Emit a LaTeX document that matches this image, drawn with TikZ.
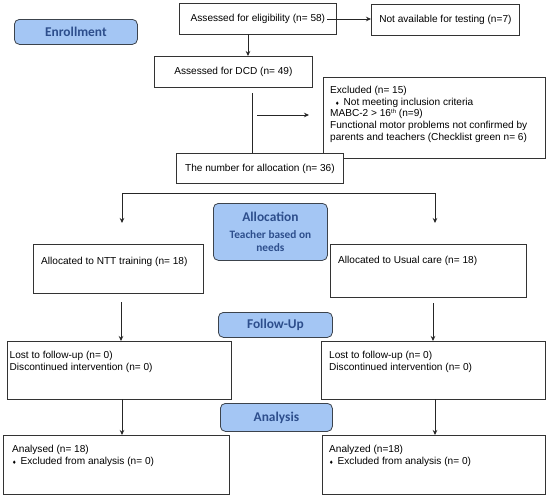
\documentclass[tikz,border=0pt]{standalone}
\usepackage{fontspec}
\setmainfont{Liberation Sans}
\newfontfamily\lblfont{Carlito}
\newfontfamily\symfont{DejaVu Sans}
\usetikzlibrary{arrows.meta,calc}
\definecolor{lblfill}{HTML}{A4C6F4}
\definecolor{lbltext}{HTML}{2D4E8C}
\definecolor{lbldraw}{HTML}{3C434C}
\definecolor{boxdraw}{HTML}{333333}
\newcommand{\dmd}{{\symfont\fontsize{5}{5}\selectfont ♦}\hspace{4pt}}
\newcommand{\lblsmall}{\fontsize{11.3}{13.5}\selectfont}
\begin{document}
\begin{tikzpicture}[x=1pt,y=-1pt,
  every node/.style={font=\fontsize{10.1}{11.7}\selectfont, inner sep=0pt},
  box/.style={draw=boxdraw, line width=0.8pt, anchor=north west, fill=white},
  lbl/.style={draw=lbldraw, line width=0.8pt, fill=lblfill, rounded corners=5pt, anchor=north west,
     text=lbltext, font=\lblfont\bfseries\fontsize{13.4}{14}\selectfont, align=center},
  txt/.style={anchor=west, align=left},
  arr/.style={draw=black!85, line width=0.8pt, -{Stealth[length=5pt,width=4.5pt]}},
  ln/.style={draw=black!85, line width=0.8pt}]
\useasboundingbox (0,0) rectangle (550,498);
\fill[white] (0,0) rectangle (550,498);

% stage labels
\node[lbl, minimum width=123pt, minimum height=25pt] (enroll) at (14,19) {Enrollment};
\node[lbl, minimum width=114pt, minimum height=57pt] (allocl) at (213,203)
  {Allocation\\[3pt]{\lblsmall Teacher based on}\\[-1pt]{\lblsmall needs}};
\node[lbl, minimum width=114pt, minimum height=25pt] (follow) at (218,312) {Follow-Up};
\node[lbl, minimum width=112pt, minimum height=28pt] (analysis) at (220,403) {Analysis};

% boxes with centred text
\node[box, minimum width=157pt, minimum height=31pt] (elig) at (179,3) {Assessed for eligibility (n= 58)};
\node[box, minimum width=148pt, minimum height=31pt] (notav) at (371,4) {Not available for testing (n=7)};
\node[box, minimum width=158pt, minimum height=31pt] (dcd) at (154,56) {Assessed for DCD (n= 49)};
\node[box, minimum width=222pt, minimum height=81pt] (excl) at (323,77) {};
\node[box, minimum width=167pt, minimum height=30pt] (alloc) at (176,153) {The number for allocation (n= 36)};

\node[txt, anchor=north west] (exclt) at (330,86)
  {Excluded (n= 15)\\
   \hspace*{5pt}\dmd Not meeting inclusion criteria\\
   MABC-2 {>} 16{\fontsize{6}{6}\selectfont\raisebox{3.5pt}{th}} (n=9)\\
   Functional motor problems not confirmed by\\
   parents and teachers (Checklist green n= 6)};

% allocation boxes
\node[box, minimum width=170pt, minimum height=49pt] (ntt) at (33,244) {};
\node[txt] (nttt) at (41,262) {Allocated to NTT training (n= 18)};
\node[box, minimum width=196pt, minimum height=53pt] (usual) at (330,244) {};
\node[txt] (usualt) at (338,261) {Allocated to Usual care (n= 18)};

% follow-up boxes
\node[box, minimum width=224pt, minimum height=58pt] (ful) at (7,341) {};
\node[txt, anchor=north west] (fult) at (9.5,351) {Lost to follow-up (n= 0)\\Discontinued intervention (n= 0)};
\node[box, minimum width=224pt, minimum height=58pt] (fur) at (321,341) {};
\node[txt, anchor=north west] (furt) at (329,351) {Lost to follow-up (n= 0)\\Discontinued intervention (n= 0)};

% analysis boxes
\node[box, minimum width=226pt, minimum height=59pt] (anl) at (3,435) {};
\node[txt, anchor=north west] (anlt) at (12,445) {Analysed (n= 18)\\\dmd Excluded from analysis (n= 0)};
\node[box, minimum width=223pt, minimum height=59pt] (anr) at (322,435) {};
\node[txt, anchor=north west] (anrt) at (329,445) {Analyzed (n=18)\\\dmd Excluded from analysis (n= 0)};

% connectors
\coordinate (eligout) at (327,19);
\draw[arr] (eligout) -- (notav.west |- eligout);
\coordinate (down1) at (248,34);
\draw[arr] (down1) -- (down1 |- dcd.north);
\coordinate (v1) at (252,93);
\draw[ln] (v1) -- (v1 |- alloc.north);
\coordinate (h1) at (257,115);
\coordinate (h2) at (309,115);
\draw[arr] (h1) -- (h2);

\coordinate (t1) at (122,193);
\coordinate (t2) at (435,193);
\coordinate (aL) at (122,223);
\coordinate (aR) at (435,223);
\draw[ln] (t1) -- (t2);
\draw[arr] (t1) -- (aL);
\draw[arr] (t2) -- (aR);

\coordinate (n1) at (121,302);
\draw[arr] (n1) -- (n1 |- ful.north);
\coordinate (u1) at (433,303);
\draw[arr] (u1) -- (u1 |- fur.north);

\coordinate (f1) at (122,399);
\draw[arr] (f1) -- (f1 |- anl.north);
\coordinate (f2) at (435,399);
\draw[arr] (f2) -- (f2 |- anr.north);
\end{tikzpicture}
\end{document}
